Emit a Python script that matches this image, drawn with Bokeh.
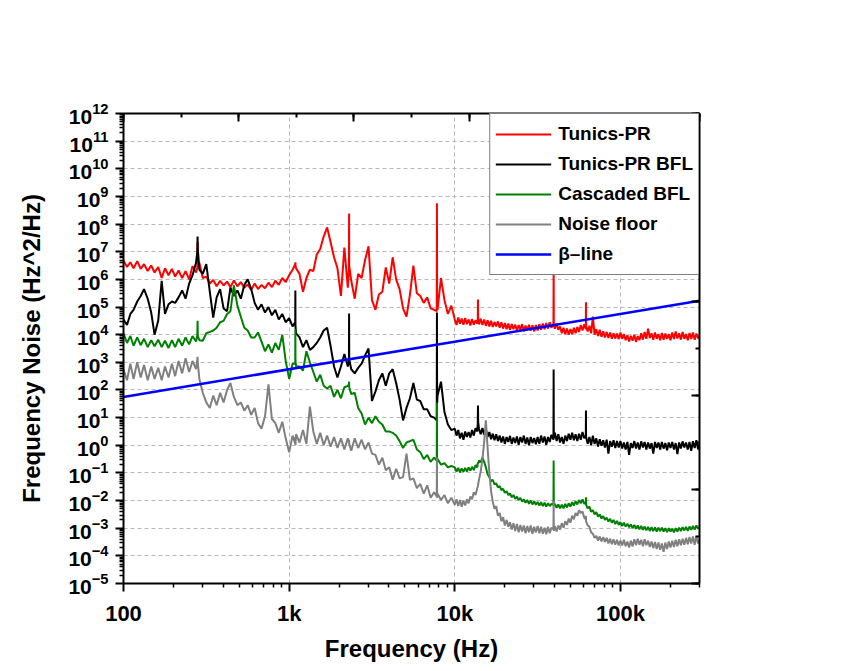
import numpy as np
from bokeh.plotting import figure
from bokeh.models import (Range1d, LinearAxis, LinearScale, FixedTicker, Legend, LegendItem,
                          CustomJSTickFormatter, SingleIntervalTicker)
from bokeh.embed import file_html
from bokeh.resources import INLINE

# ---------------- data (frequencies in Hz, noise values stored as log10 exponents) -------------
freq_hz = [
    100, 105, 110, 115, 121, 127, 133, 140, 147, 154, 162, 170,
    178, 187, 196, 205, 215, 226, 237, 249, 261, 274, 279, 280, 281, 287, 301,
    316, 332, 348, 365, 383, 402, 422, 442, 464, 487, 511, 536,
    562, 590, 619, 649, 681, 715, 750, 787, 825, 866, 909, 953,
    1000, 1049, 1088, 1090, 1092, 1101, 1155, 1212, 1271, 1334, 1399, 1468, 1540, 1616, 1695,
    1778, 1866, 1957, 2054, 2154, 2260, 2295, 2300, 2305, 2371, 2488, 2610, 2738, 2873, 3014,
    3162, 3318, 3481, 3652, 3831, 4019, 4217, 4424, 4642, 4870, 5109, 5360,
    5623, 5900, 6190, 6494, 6813, 7148, 7499, 7780, 7800, 7820, 7867, 8254, 8660, 9085, 9532,
    10000, 10243, 10490, 10745, 11010, 11277, 11550, 11830, 12120, 12414, 12710, 13019, 13340, 13664,
    13760, 13800, 13840, 13990, 14330, 14680, 15036, 15400, 15774, 16160, 16552, 16950, 17362,
    17780, 18212, 18660, 19113, 19570, 20045, 20540, 21039, 21540, 22063, 22600, 23149,
    23710, 24286, 24880, 25484, 26100, 26734, 27380, 28045, 28730, 29428, 30140, 30872,
    31620, 32388, 33180, 33986, 34810, 35655, 36520, 37406, 38310, 39400, 39500, 39600, 40190,
    41166, 42170, 43194, 44240, 45314, 46420, 47547, 48700, 49882, 51090, 52330, 53600, 54901,
    56230, 57596, 59000, 60433, 61800, 61900, 62000, 63400, 64940, 66517, 68130, 69784, 71480,
    73215, 74990, 76811, 78670, 80579, 82540, 84544, 86600, 88703, 90850, 93056, 95320, 97634,
    100000, 102428, 104900, 107447, 110100, 112773, 115500, 118304, 121200, 124143, 127100, 130186,
    133400, 136639, 139900, 143297, 146800, 150364, 154000, 157739, 161600, 165524, 169500, 173615,
    177800, 182117, 186600, 191131, 195700, 200452, 205400, 210387, 215400, 220630, 226000, 231487,
    237100, 242857, 248800, 254841, 261000, 267337, 273800, 280448, 287300, 294276, 300000,
]

tunics_pr_exp = [
    6.68, 6.45, 6.62, 6.40, 6.66, 6.38, 6.55, 6.30, 6.50, 6.25, 6.45, 6.05,
    6.40, 6.15, 6.38, 6.10, 6.32, 6.05, 6.30, 6.00, 6.48, 6.25, 6.42, 7.35, 6.55, 6.60, 6.05,
    6.10, 5.85, 5.98, 5.75, 5.95, 5.78, 5.92, 5.72, 5.96, 5.75, 5.90, 5.70,
    5.82, 5.62, 5.85, 5.65, 5.80, 5.68, 5.88, 5.72, 5.95, 5.80, 6.05, 5.90,
    6.15, 6.35, 6.55, 6.62, 6.50, 6.40, 6.20, 5.55, 6.05, 6.35, 6.30, 6.90, 7.10, 7.55, 7.88,
    7.35, 6.80, 6.40, 5.40, 7.15, 5.70, 6.40, 8.38, 6.50, 5.95, 5.30, 6.20, 6.05, 6.70, 7.20,
    5.25, 4.90, 5.45, 5.55, 6.43, 5.85, 6.80, 6.00, 5.65, 4.95, 4.65, 5.45,
    6.50, 5.50, 5.40, 5.15, 5.35, 4.95, 4.90, 4.85, 8.75, 5.05, 4.90, 6.05, 5.25, 4.75, 5.05,
    4.55, 4.35, 4.62, 4.40, 4.58, 4.36, 4.60, 4.38, 4.55, 4.33, 4.57, 4.36, 4.52, 4.40,
    4.50, 5.27, 4.48, 4.38, 4.58, 4.35, 4.55, 4.32, 4.52, 4.30, 4.50, 4.28, 4.46,
    4.30, 4.48, 4.25, 4.45, 4.22, 4.42, 4.20, 4.40, 4.18, 4.38, 4.20, 4.36,
    4.15, 4.35, 4.18, 4.38, 4.12, 4.33, 4.16, 4.36, 4.14, 4.34, 4.12, 4.35,
    4.15, 4.38, 4.18, 4.40, 4.20, 4.42, 4.22, 4.45, 4.25, 4.40, 6.60, 4.35, 4.22,
    4.40, 4.18, 4.30, 4.05, 4.25, 4.02, 4.22, 4.00, 4.20, 4.02, 4.25, 4.05, 4.28,
    4.10, 4.35, 4.15, 4.38, 4.20, 5.17, 4.30, 4.12, 4.32, 4.05, 4.65, 4.00, 4.20,
    3.95, 4.18, 3.92, 4.12, 3.90, 4.10, 3.88, 4.08, 3.85, 4.05, 3.86, 4.04, 3.84,
    4.08, 3.85, 4.02, 3.80, 3.98, 3.75, 3.96, 3.78, 4.00, 3.74, 3.95, 3.80,
    4.05, 3.82, 4.10, 3.85, 4.22, 3.88, 4.05, 3.82, 4.08, 3.85, 4.02, 3.80,
    4.06, 3.82, 4.04, 3.85, 4.02, 3.80, 4.08, 3.84, 4.12, 3.86, 4.05, 3.82,
    4.10, 3.85, 4.02, 3.80, 4.06, 3.84, 4.08, 3.82, 4.04, 3.86, 3.98,
]

tunics_pr_bfl_exp = [
    4.55, 4.35, 4.75, 4.90, 5.20, 5.40, 5.65, 5.30, 4.80, 4.00, 4.50, 5.95,
    4.75, 5.10, 5.20, 5.15, 5.35, 5.60, 5.30, 5.85, 6.15, 6.60, 7.00, 7.55, 7.10, 6.35, 6.20,
    6.55, 5.55, 4.62, 5.35, 5.65, 4.95, 4.85, 5.70, 5.40, 5.60, 5.30, 5.80,
    6.00, 5.65, 5.15, 4.90, 5.10, 4.80, 5.00, 4.70, 4.90, 4.55, 4.75, 4.45,
    4.60, 4.30, 4.45, 5.60, 4.30, 4.05, 3.90, 3.55, 3.80, 3.45, 3.55, 3.70, 3.90, 4.15, 4.25,
    3.60, 2.85, 2.45, 2.85, 3.30, 2.85, 3.05, 4.77, 3.10, 2.75, 2.60, 2.80, 2.95, 3.25, 3.50,
    1.60, 1.95, 2.35, 2.60, 2.15, 2.60, 2.75, 2.25, 1.65, 0.90, 1.35, 1.70,
    2.25, 1.65, 1.60, 1.30, 1.30, 1.05, 1.00, 0.90, 4.80, 1.50, 1.80, 2.30, 1.20, 0.75, 0.55,
    0.60, 0.35, 0.55, 0.25, 0.45, 0.20, 0.50, 0.30, 0.48, 0.28, 0.55, 0.35, 0.62, 0.50,
    0.80, 1.44, 0.85, 0.60, 0.40, 0.62, 0.38, 0.58, 0.30, 0.48, 0.22, 0.42, 0.18,
    0.40, 0.15, 0.35, 0.10, 0.32, 0.05, 0.30, 0.12, 0.34, 0.05, 0.28, 0.08,
    0.32, 0.02, 0.30, 0.10, 0.35, 0.05, 0.28, 0.00, 0.30, 0.08, 0.26, 0.04,
    0.30, 0.05, 0.35, 0.10, 0.32, 0.02, 0.30, 0.12, 0.38, 0.20, 2.74, 0.25, 0.45,
    0.15, 0.40, 0.10, 0.30, 0.05, 0.35, 0.15, 0.42, 0.20, 0.45, 0.18, 0.40, 0.15,
    0.42, 0.20, 0.48, 0.25, 0.35, 1.26, 0.30, 0.05, 0.30, 0.00, 0.35, 0.05, 0.25,
    -0.05, 0.22, -0.02, 0.18, -0.08, 0.20, -0.30, 0.15, -0.05, 0.18, -0.10, 0.15, -0.08,
    0.15, -0.12, 0.10, -0.15, 0.12, -0.35, 0.08, -0.10, 0.15, -0.12, 0.10, -0.15,
    0.14, -0.08, 0.12, -0.15, 0.10, -0.12, 0.08, -0.30, 0.12, -0.10, 0.10, -0.15,
    0.12, -0.12, 0.08, -0.18, 0.10, -0.10, 0.12, -0.15, 0.08, -0.32, 0.10, -0.12,
    0.14, -0.08, 0.10, -0.15, 0.12, -0.20, 0.15, -0.10, 0.18, -0.15, 0.05,
]

cascaded_bfl_exp = [
    4.05, 3.70, 3.95, 3.60, 3.90, 3.62, 3.85, 3.55, 3.80, 3.58, 3.82, 3.55,
    3.78, 3.52, 3.80, 3.55, 3.85, 3.60, 3.90, 3.65, 3.95, 3.75, 3.98, 4.50, 3.95, 3.80, 3.78,
    4.05, 4.10, 4.15, 4.25, 4.45, 4.50, 4.75, 4.85, 5.78, 5.05, 4.65, 4.25,
    4.15, 3.90, 3.90, 4.08, 3.75, 3.40, 3.65, 3.35, 3.70, 3.45, 4.00, 3.05,
    2.40, 2.95, 2.95, 4.20, 3.05, 2.85, 2.85, 2.70, 3.40, 3.00, 2.65, 2.30, 2.55, 2.15, 2.05,
    2.15, 1.75, 2.00, 1.70, 2.10, 2.15, 2.20, 2.30, 2.10, 1.85, 1.90, 1.35, 1.15, 0.75, 1.00,
    0.80, 1.05, 0.85, 0.75, 0.50, 0.50, 0.45, 0.35, 0.15, -0.10, 0.10, 0.15,
    0.20, -0.15, -0.25, -0.50, -0.35, -0.60, -0.45, -0.55, 1.55, -0.60, -0.50, -0.70, -0.65, -0.80, -0.75,
    -0.80, -0.95, -0.82, -0.98, -0.84, -0.96, -0.82, -0.95, -0.80, -0.92, -0.78, -0.90, -0.72, -0.80,
    -0.65, -0.62, -0.66, -0.55, -0.62, -0.45, -0.60, -0.80, -1.05, -1.15, -1.30, -1.25, -1.42,
    -1.38, -1.52, -1.48, -1.62, -1.58, -1.72, -1.66, -1.80, -1.74, -1.88, -1.80, -1.94,
    -1.86, -1.98, -1.90, -2.04, -1.96, -2.08, -1.98, -2.12, -2.00, -2.14, -2.02, -2.15,
    -2.05, -2.18, -2.06, -2.20, -2.08, -2.22, -2.10, -2.20, -2.12, -2.15, -0.55, -2.18, -2.12,
    -2.26, -2.14, -2.28, -2.15, -2.28, -2.12, -2.25, -2.10, -2.22, -2.06, -2.18, -2.02, -2.14,
    -1.98, -2.10, -1.96, -2.12, -2.05, -1.88, -2.15, -2.28, -2.22, -2.40, -2.35, -2.50, -2.42,
    -2.58, -2.50, -2.65, -2.56, -2.70, -2.62, -2.76, -2.66, -2.80, -2.70, -2.85, -2.74, -2.88,
    -2.78, -2.92, -2.80, -2.94, -2.84, -2.97, -2.86, -3.00, -2.88, -3.02, -2.90, -3.04,
    -2.92, -3.06, -2.94, -3.08, -2.95, -3.10, -2.96, -3.10, -2.97, -3.12, -2.98, -3.10,
    -2.98, -3.12, -3.00, -3.14, -3.00, -3.12, -3.02, -3.15, -3.00, -3.12, -2.98, -3.10,
    -2.96, -3.08, -2.95, -3.10, -2.94, -3.06, -2.92, -3.05, -2.90, -3.02, -2.95,
]

noise_floor_exp = [
    2.75, 2.35, 2.95, 2.40, 3.00, 2.45, 2.90, 2.35, 2.85, 2.40, 2.80, 2.35,
    2.85, 2.45, 2.95, 2.50, 3.05, 2.60, 3.15, 2.65, 3.05, 2.75, 3.10, 3.20, 2.95, 2.40, 1.90,
    1.55, 1.35, 1.80, 1.45, 1.90, 1.55, 2.00, 2.25, 1.75, 1.45, 1.55, 1.25,
    1.45, 1.10, 1.35, 0.80, 0.60, 1.05, 2.20, 0.95, 0.80, 0.45, 0.85, 0.25,
    -0.25, 0.35, 0.05, 0.30, 0.00, 0.40, 0.10, 0.55, 0.05, 1.40, 0.50, 0.05, 0.45, 0.00, 0.35,
    -0.05, 0.30, -0.10, 0.25, -0.15, 0.25, 0.10, 0.20, 0.05, -0.20, 0.25, -0.10, 0.20, -0.15, 0.10,
    -0.30, -0.35, -0.70, -0.45, -0.90, -0.80, -1.25, -0.85, -1.20, -1.15, -0.30, -1.25,
    -1.20, -1.55, -1.40, -1.75, -1.45, -1.90, -1.70, -1.85, -0.44, -1.90, -1.75, -1.98, -1.80, -2.10, -1.90,
    -2.15, -1.95, -2.20, -1.98, -2.22, -2.00, -2.18, -1.95, -2.10, -1.85, -1.95, -1.70, -1.80, -1.55,
    -1.50, -1.45, -1.40, -1.25, -0.95, -0.50, 0.10, 0.90, -0.10, -1.00, -1.65, -2.05, -2.30,
    -2.20, -2.55, -2.45, -2.75, -2.60, -2.90, -2.70, -2.95, -2.78, -3.05, -2.82, -3.10,
    -2.85, -3.15, -2.88, -3.12, -2.90, -3.18, -2.92, -3.15, -2.90, -3.20, -2.95, -3.15,
    -2.92, -3.18, -2.95, -3.20, -2.98, -3.22, -2.95, -3.18, -2.98, -3.05, -2.00, -3.10, -2.92,
    -3.12, -2.90, -3.05, -2.82, -2.98, -2.75, -2.88, -2.65, -2.80, -2.55, -2.68, -2.45, -2.55,
    -2.35, -2.45, -2.40, -2.62, -2.68, -2.55, -2.75, -2.90, -2.95, -3.15, -3.20, -3.35, -3.28,
    -3.45, -3.30, -3.48, -3.32, -3.50, -3.35, -3.55, -3.38, -3.58, -3.40, -3.60, -3.42, -3.62,
    -3.45, -3.62, -3.42, -3.65, -3.48, -3.70, -3.45, -3.66, -3.40, -3.62, -3.38, -3.60,
    -3.42, -3.65, -3.40, -3.62, -3.45, -3.68, -3.48, -3.72, -3.50, -3.75, -3.52, -3.78,
    -3.55, -3.85, -3.52, -3.75, -3.48, -3.70, -3.45, -3.68, -3.42, -3.65, -3.40, -3.62,
    -3.38, -3.60, -3.35, -3.58, -3.32, -3.55, -3.30, -3.60, -3.28, -3.55, -3.40,
]

beta_freq_hz = [100, 300000]
beta_values = [56.15, 168450]

series_labels = ["Tunics-PR", "Tunics-PR BFL", "Cascaded BFL", "Noise floor", "\u03b2\u2013line"]
series_colors = ["#ff0000", "#000000", "#008000", "#808080", "#0000ff"]

for s in (tunics_pr_exp, tunics_pr_bfl_exp, cascaded_bfl_exp, noise_floor_exp):
    assert len(s) == len(freq_hz), (len(s), len(freq_hz))

FONT = "Liberation Sans"

p = figure(width=865, height=671, x_axis_type="log", y_axis_type="log",
           x_range=Range1d(100, 300000), y_range=Range1d(1e-5, 1e12),
           output_backend="svg", toolbar_location=None,
           min_border_left=123, min_border_right=166, min_border_top=113, min_border_bottom=88,
           background_fill_color="white", border_fill_color="white")
p.outline_line_color = "black"
p.outline_line_width = 1

# log axes
xax = p.xaxis[0]
yax = p.yaxis[0]
xax.ticker = FixedTicker(ticks=[100, 1000, 10000, 100000],
                         minor_ticks=[m * 10 ** k for k in range(2, 6) for m in range(2, 10) if m * 10 ** k <= 300000])
xax.formatter = CustomJSTickFormatter(code="return tick >= 1000 ? (tick/1000).toFixed(0) + 'k' : tick.toFixed(0);")
yax.ticker = FixedTicker(ticks=[10.0 ** k for k in range(-5, 13)],
                         minor_ticks=[m * 10.0 ** k for k in range(-5, 12) for m in range(2, 10)])

for ax in (xax, yax):
    ax.axis_line_width = 2
    ax.major_tick_out = 8
    ax.major_tick_in = 0
    ax.minor_tick_out = 4
    ax.minor_tick_in = 0
    ax.major_tick_line_width = 2
    ax.minor_tick_line_width = 1.5
    ax.major_label_text_font = FONT
    ax.major_label_text_font_style = "bold"
    ax.major_label_text_color = "black"
    ax.axis_label_text_font = FONT
    ax.axis_label_text_font_style = "bold"
    ax.axis_label_text_font_size = "24px"
    ax.axis_label_text_color = "black"

xax.major_label_text_font_size = "22px"
xax.major_label_standoff = 9
xax.axis_label = "Frequency (Hz)"
xax.axis_label_standoff = 6
yax.major_label_text_font_size = "21px"
yax.major_label_standoff = 7
yax.axis_label = "Frequency Noise (Hz^2/Hz)"
yax.axis_label_standoff = 20

for g in (p.xgrid[0], p.ygrid[0]):
    g.grid_line_color = "#b8b8b8"
    g.grid_line_dash = "4 3"
    g.grid_line_width = 1

# top / right frame axes (unlabelled linear tick marks, inward)
p.extra_x_ranges = {"top": Range1d(0, 10)}
p.extra_x_scales = {"top": LinearScale()}
p.extra_y_ranges = {"right": Range1d(0, 10)}
p.extra_y_scales = {"right": LinearScale()}
for name, side in (("top", "above"), ("right", "right")):
    kw = {"x_range_name": name} if name == "top" else {"y_range_name": name}
    ax = LinearAxis(ticker=SingleIntervalTicker(interval=2, num_minor_ticks=2),
                    formatter=CustomJSTickFormatter(code="return '';"),
                    major_tick_in=8, major_tick_out=0, minor_tick_in=4, minor_tick_out=0,
                    axis_line_width=2, major_tick_line_width=2, minor_tick_line_width=2,
                    major_label_text_font_size="0px", major_label_standoff=0, **kw)
    p.add_layout(ax, side)

# traces
freqs = np.array(freq_hz, dtype=float)
renderers = []
for vals, color in zip((tunics_pr_exp, tunics_pr_bfl_exp, cascaded_bfl_exp, noise_floor_exp), series_colors[:4]):
    r = p.line(freqs, 10.0 ** np.array(vals), line_color=color, line_width=2)
    renderers.append(r)
rb = p.line(beta_freq_hz, beta_values, line_color=series_colors[4], line_width=2.5)
renderers.append(rb)

legend = Legend(items=[LegendItem(label=lab, renderers=[r]) for lab, r in zip(series_labels, renderers)],
                location="top_right", margin=0, padding=5, spacing=0,
                glyph_width=56, glyph_height=30, label_height=30, label_standoff=7,
                label_text_font=FONT, label_text_font_style="bold", label_text_font_size="19px",
                label_text_color="black",
                border_line_color="black", border_line_width=1.5,
                background_fill_color="white", background_fill_alpha=1.0)
p.add_layout(legend)

open("out.html", "w").write(file_html(p, INLINE))
